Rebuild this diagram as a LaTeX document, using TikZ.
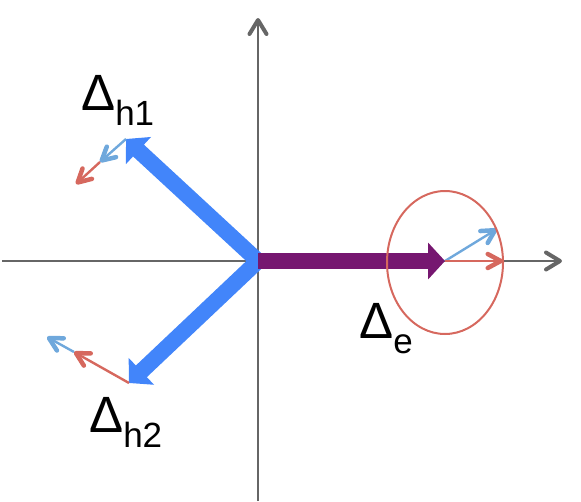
\documentclass[tikz,border=0pt]{standalone}
\usepackage{fontspec}
\setmainfont{Liberation Sans}
\usetikzlibrary{arrows.meta,shapes.geometric}
\definecolor{axisgray}{RGB}{102,102,102}
\definecolor{bigblue}{RGB}{66,133,250}
\definecolor{bigpurple}{RGB}{118,23,112}
\definecolor{smallblue}{RGB}{111,168,220}
\definecolor{smallred}{RGB}{214,104,94}
\tikzset{
  axisline/.style={draw=axisgray, line width=2.5pt, -{Straight Barb[length=14pt,width=17pt,line width=4pt 0 0,round]}},
  bigarrow/.style={line width=16pt, -{Triangle[length=17pt,width=36pt]}},
  smallarrow/.style={line width=2.4pt, -{Straight Barb[length=13pt,width=14pt,line width=4.5pt 0 0,round]}},
  biglabel/.style={inner sep=0pt, anchor=base west, font=\fontsize{51}{51}\selectfont},
  ellipsebox/.style={draw=smallred, line width=2pt, ellipse, inner sep=0pt, minimum width=116pt, minimum height=143pt},
}
\newcommand{\subtxt}[1]{\raisebox{-15pt}{\fontsize{35}{35}\selectfont #1}}
\begin{document}
\begin{tikzpicture}[x=1pt,y=-1pt]
\useasboundingbox (0,0) rectangle (581,501);
% coordinates
\coordinate (O) at (258,261);
\coordinate (xL) at (2,261);
\coordinate (xR) at (562,261);
\coordinate (yB) at (258,501);
\coordinate (yT) at (258,18);
\coordinate (H1) at (126,139);
\coordinate (H2) at (129,383);
\coordinate (E) at (445,261);
\coordinate (h1b) at (100,162);
\coordinate (h1r) at (76,184);
\coordinate (h2r) at (74,352);
\coordinate (h2b) at (47,337);
\coordinate (eb) at (497,229);
\coordinate (er) at (503,261);
% axes
\draw[axisline] (xL) -- (xR);
\draw[axisline] (yB) -- (yT);
% big arrows
\draw[bigarrow, draw=bigblue, fill=bigblue] (O) -- (H1);
\draw[bigarrow, draw=bigblue, fill=bigblue] (O) -- (H2);
\draw[bigarrow, draw=bigpurple, fill=bigpurple] (O) -- (E);
% small arrows
\draw[smallarrow, draw=smallblue] (H1) -- (h1b);
\draw[smallarrow, draw=smallred] (h1b) -- (h1r);
\draw[smallarrow, draw=smallred] (H2) -- (h2r);
\draw[smallarrow, draw=smallblue] (h2r) -- (h2b);
\draw[smallarrow, draw=smallblue] (E) -- (eb);
\draw[smallarrow, draw=smallred] (E) -- (er);
% ellipse
\node[ellipsebox] (ell) at (445,262.5) {};
% labels
\node[biglabel] (Lh1) at (81,110) {Δ\subtxt{h1}};
\node[biglabel] (Lh2) at (89,432) {Δ\subtxt{h2}};
\node[biglabel] (Le) at (359,338) {Δ\subtxt{e}};
\end{tikzpicture}
\end{document}
